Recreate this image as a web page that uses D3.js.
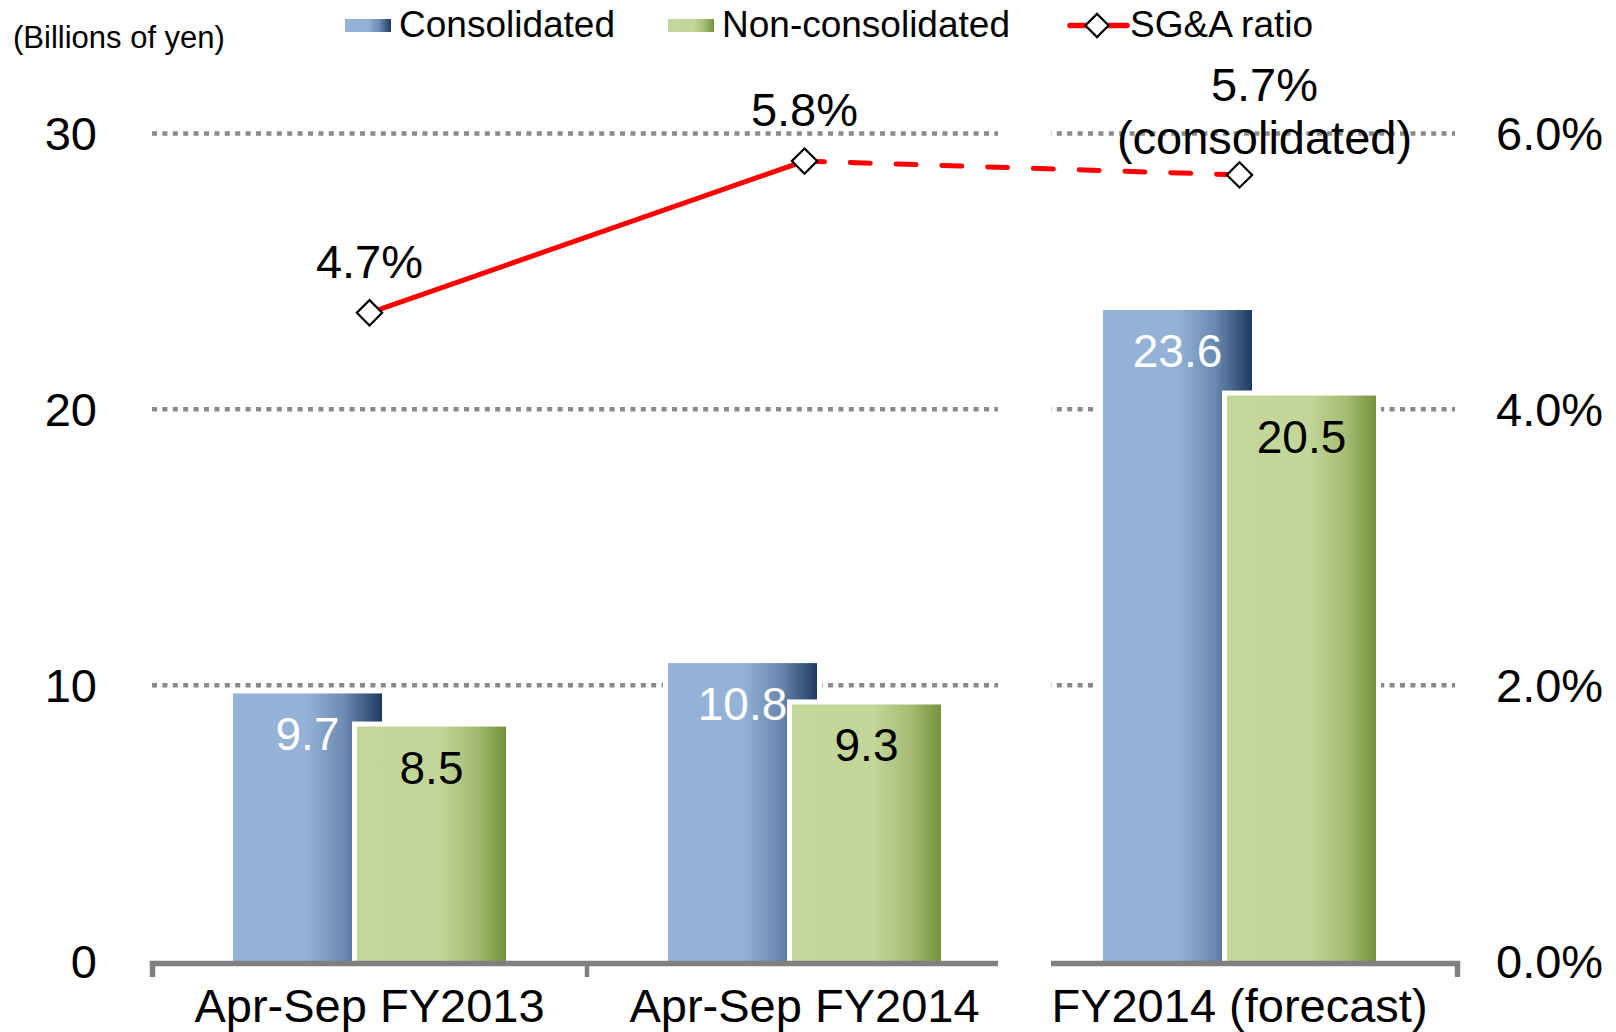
<!DOCTYPE html>
<html>
<head>
<meta charset="utf-8">
<script src="https://cdn.jsdelivr.net/npm/d3@7"></script>
<style>
body { margin: 0; background: #fff; }
text { font-family: "Liberation Sans", Arial, sans-serif; }
</style>
</head>
<body>
<svg id="chart" width="1616" height="1032"></svg>
<script>
var categories = ["Apr-Sep FY2013", "Apr-Sep FY2014", "FY2014 (forecast)"];
var consolidated = [9.7, 10.8, 23.6];
var nonConsolidated = [8.5, 9.3, 20.5];
var sgaRatio = [4.7, 5.8, 5.7];
var ratioNotes = ["", "", "(consolidated)"];
var leftTicks = [0, 10, 20, 30];
var rightTicks = [0, 2, 4, 6];

var svg = d3.select("#chart");

// scales
var x = d3.scaleBand().domain(categories).range([152, 1457]).padding(0);
var y = d3.scaleLinear().domain([0, 30]).range([961, 133.5]);
var yR = d3.scaleLinear().domain([0, 6]).range([961, 133.5]);

// gradients for bars and legend swatches
var defs = svg.append("defs");
function grad(id, stops) {
	var g = defs.append("linearGradient").attr("id", id)
		.attr("x1", "0").attr("x2", "1").attr("y1", "0").attr("y2", "0");
	stops.forEach(function(s) {
		g.append("stop").attr("offset", s[0]).attr("stop-color", s[1]);
	});
}
grad("blueGrad", [[0, "#95b3d7"], [0.5, "#94b2d6"], [0.75, "#6a8ab2"], [1, "#1f3a60"]]);
grad("greenGrad", [[0, "#c4d79b"], [0.55, "#c3d69a"], [0.8, "#a3bc72"], [1, "#76923c"]]);

// grid lines
svg.append("g").selectAll("line").data(leftTicks.slice(1)).enter().append("line")
	.attr("x1", 152).attr("x2", 1455)
	.attr("y1", function(d) { return y(d); })
	.attr("y2", function(d) { return y(d); })
	.attr("stroke", "#8a8a8a").attr("stroke-width", 4.5)
	.attr("stroke-dasharray", "5,5.4");

// bars
var series = [
	{ name: "Consolidated", values: consolidated, fill: "url(#blueGrad)", label: "#fff", dx: -136.5 },
	{ name: "Non-consolidated", values: nonConsolidated, fill: "url(#greenGrad)", label: "#000", dx: -12.5 }
];
var barW = 149;

series.forEach(function(s) {
	var g = svg.append("g");
	g.selectAll("rect").data(s.values).enter().append("rect")
		.attr("x", function(d, i) { return x(categories[i]) + x.bandwidth() / 2 + s.dx; })
		.attr("y", function(d) { return y(d); })
		.attr("width", barW)
		.attr("height", function(d) { return y(0) - y(d); })
		.attr("fill", s.fill)
		.attr("stroke", "#fff").attr("stroke-width", 10)
		.attr("paint-order", "stroke");
	g.selectAll("text").data(s.values).enter().append("text")
		.attr("x", function(d, i) { return x(categories[i]) + x.bandwidth() / 2 + s.dx + barW / 2; })
		.attr("y", function(d) { return y(d) + 57; })
		.attr("text-anchor", "middle")
		.attr("font-size", 46)
		.attr("fill", s.label)
		.text(function(d) { return d.toFixed(1); });
});

// bottom axis
var xAxis = svg.append("g")
	.attr("transform", "translate(0,963)")
	.call(d3.axisBottom(x).tickSize(0).tickSizeOuter(14));
xAxis.select(".domain").attr("stroke", "#808080").attr("stroke-width", 5.5);
xAxis.selectAll("text").attr("y", 59).attr("dy", null)
	.attr("font-size", 47).attr("fill", "#000")
	.style("font-family", "'Liberation Sans', Arial, sans-serif");
xAxis.selectAll(".inner").data(categories.slice(1)).enter().append("line")
	.attr("class", "inner")
	.attr("x1", function(d) { return x(d); }).attr("x2", function(d) { return x(d); })
	.attr("y1", 0).attr("y2", 14)
	.attr("stroke", "#808080").attr("stroke-width", 4.5);

// white break between actual and forecast
svg.append("rect")
	.attr("x", x(categories[2]) - 24).attr("y", 110)
	.attr("width", 53).attr("height", 870)
	.attr("fill", "#fff");

// left axis
var yAxis = svg.append("g")
	.attr("transform", "translate(97,0)")
	.call(d3.axisLeft(y).tickValues(leftTicks).tickSize(0).tickPadding(0));
yAxis.select(".domain").remove();
yAxis.selectAll("text").attr("font-size", 47).attr("fill", "#000").attr("dy", "0.35em")
	.style("font-family", "'Liberation Sans', Arial, sans-serif");

// right axis
var yAxisR = svg.append("g")
	.attr("transform", "translate(1496,0)")
	.call(d3.axisRight(yR).tickValues(rightTicks).tickSize(0).tickPadding(0)
		.tickFormat(function(d) { return d.toFixed(1) + "%"; }));
yAxisR.select(".domain").remove();
yAxisR.selectAll("text").attr("font-size", 47).attr("fill", "#000").attr("dy", "0.35em")
	.style("font-family", "'Liberation Sans', Arial, sans-serif");

// SG&A ratio line
var pts = sgaRatio.map(function(d, i) { return [x(categories[i]) + x.bandwidth() / 2, yR(d)]; });
var line = d3.line();
svg.append("path").attr("d", line(pts.slice(0, 2)))
	.attr("fill", "none").attr("stroke", "#ff0000").attr("stroke-width", 5);
svg.append("path").attr("d", line(pts.slice(1, 3)))
	.attr("fill", "none").attr("stroke", "#ff0000").attr("stroke-width", 5)
	.attr("stroke-linecap", "round").attr("stroke-dasharray", "20,25.8");

var diamond = d3.symbol().type(d3.symbolSquare).size(320);
svg.append("g").selectAll("path").data(pts).enter().append("path")
	.attr("d", diamond)
	.attr("transform", function(d) { return "translate(" + d[0] + "," + d[1] + ") rotate(45)"; })
	.attr("fill", "#fff").attr("stroke", "#000").attr("stroke-width", 2.2);

// ratio labels
var rl = svg.append("g");
sgaRatio.forEach(function(d, i) {
	var note = ratioNotes[i];
	var lx = pts[i][0] + (note ? 25 : 0);
	var ly = pts[i][1] - (note ? 74 : 35);
	rl.append("text").attr("x", lx).attr("y", ly)
		.attr("text-anchor", "middle").attr("font-size", 47)
		.text(d.toFixed(1) + "%");
	if (note) {
		rl.append("text").attr("x", lx).attr("y", ly + 53)
			.attr("text-anchor", "middle").attr("font-size", 47)
			.text(note);
	}
});

// unit label and legend
svg.append("text").attr("x", 13).attr("y", 48).attr("font-size", 31)
	.text("(Billions of yen)");

var legend = svg.append("g");
var legendItems = [
	{ name: "Consolidated", fill: "url(#blueGrad)", x: 345 },
	{ name: "Non-consolidated", fill: "url(#greenGrad)", x: 668 }
];
legendItems.forEach(function(l) {
	legend.append("rect").attr("x", l.x).attr("y", 19).attr("width", 46).attr("height", 13)
		.attr("fill", l.fill);
	legend.append("text").attr("x", l.x + 54).attr("y", 37).attr("font-size", 37)
		.text(l.name);
});
legend.append("line").attr("x1", 1070).attr("x2", 1127).attr("y1", 25.5).attr("y2", 25.5)
	.attr("stroke", "#ff0000").attr("stroke-width", 5.5).attr("stroke-linecap", "round");
legend.append("path").attr("d", d3.symbol().type(d3.symbolSquare).size(270)())
	.attr("transform", "translate(1097,25.5) rotate(45)")
	.attr("fill", "#fff").attr("stroke", "#000").attr("stroke-width", 2.2);
legend.append("text").attr("x", 1130).attr("y", 37).attr("font-size", 37)
	.text("SG&A ratio");
</script>
</body>
</html>
